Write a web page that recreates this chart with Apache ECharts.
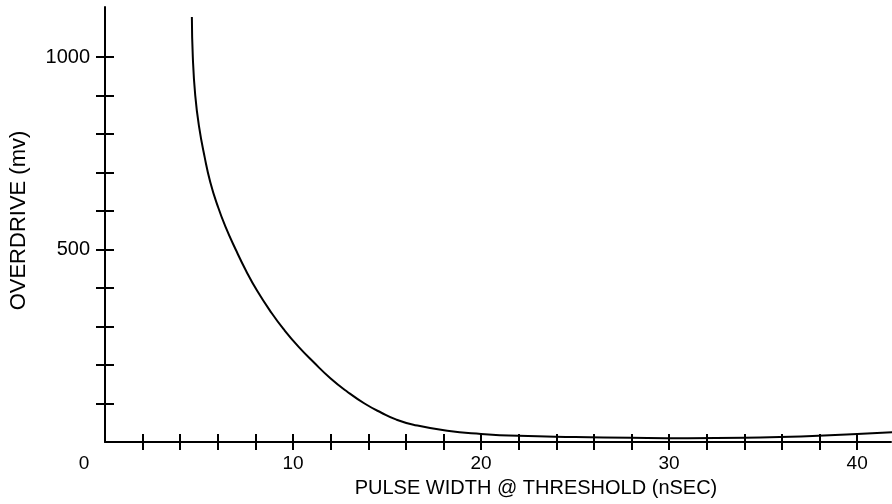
<!DOCTYPE html>
<html>
<head>
<meta charset="utf-8">
<script src="https://cdn.jsdelivr.net/npm/echarts@6/dist/echarts.min.js"></script>
<style>
html, body { margin: 0; padding: 0; background: #fff; }
#chart { width: 892px; height: 504px; }
</style>
</head>
<body>
<div id="chart"></div>
<script>
// curve: pulse width (nSEC) vs overdrive (mv)
var pulseWidth = [4.62, 4.67, 4.8, 5.0, 5.3, 5.6, 6.0, 6.4, 6.95, 7.5, 8.1, 8.86, 9.5, 10.3, 11.1, 12.0, 12.9, 13.8, 14.7, 15.5, 16.4, 18.2, 20, 22, 25, 28, 31, 34, 37, 40, 42];
var overdrive  = [1104, 1000, 900, 820, 740, 675, 612, 560, 500, 445, 392, 335, 293, 247, 207, 165, 130, 100, 76, 58, 45, 29, 21, 16, 13, 11, 10, 11, 14, 21, 26];

var xTicks  = [2, 4, 6, 8, 10, 12, 14, 16, 18, 20, 22, 24, 26, 28, 30, 32, 34, 36, 38, 40];
var xLabels = [0, 10, 20, 30, 40];
var yTicks  = [100, 200, 300, 400, 500, 600, 700, 800, 900, 1000];
var yLabels = [500, 1000];

var font = 'Liberation Sans, Arial, Helvetica, sans-serif';

var myChart = echarts.init(document.getElementById('chart'), null, {renderer: 'canvas'});

var lineData = [];
for (var i = 0; i < pulseWidth.length; i++) {
  lineData.push([pulseWidth[i], overdrive[i]]);
}

var option = {
  backgroundColor: '#fff',
  animation: false,
  grid: { left: 102, right: 1, top: 7, bottom: 62, containLabel: false },
  xAxis: [
    {
      type: 'value', min: 0, max: 41.8, position: 'bottom',
      name: 'PULSE WIDTH @ THRESHOLD (nSEC)',
      nameLocation: 'middle', nameGap: 36,
      nameTextStyle: { color: '#000', fontSize: 20, fontFamily: font, padding: [0, 0, 0, 76] },
      axisLine: { onZero: false, lineStyle: { color: '#000', width: 2 } },
      axisTick: { show: true, length: 8, customValues: xTicks, lineStyle: { color: '#000', width: 2 } },
      axisLabel: {
        customValues: xLabels, margin: 12, color: '#000', fontSize: 19, fontFamily: font,
        formatter: function (v) { return v === 0 ? '{z|0}' : String(v); },
        rich: { z: { color: '#000', fontSize: 19, fontFamily: font, padding: [0, 42, 0, 0] } }
      },
      splitLine: { show: false }
    },
    {
      // second copy of the axis only to draw the inner half of each tick
      type: 'value', min: 0, max: 41.8, position: 'bottom',
      axisLine: { show: false, onZero: false },
      axisTick: { show: true, inside: true, length: 8, customValues: xTicks, lineStyle: { color: '#000', width: 2 } },
      axisLabel: { show: false },
      splitLine: { show: false }
    }
  ],
  yAxis: [
    {
      type: 'value', min: 0, max: 1130, position: 'left',
      name: 'OVERDRIVE (mv)',
      nameLocation: 'middle', nameGap: 75,
      nameTextStyle: { color: '#000', fontSize: 22, fontFamily: font, padding: [0, 0, 0, 8] },
      axisLine: { show: true, onZero: false, lineStyle: { color: '#000', width: 2 } },
      axisTick: { show: true, length: 9, customValues: yTicks, lineStyle: { color: '#000', width: 2 } },
      axisLabel: {
        customValues: yLabels, margin: 15, color: '#000', fontSize: 20, fontFamily: font,
        formatter: function (v) { return String(v); }
      },
      splitLine: { show: false }
    },
    {
      type: 'value', min: 0, max: 1130, position: 'left',
      axisLine: { show: false, onZero: false },
      axisTick: { show: true, inside: true, length: 9, customValues: yTicks, lineStyle: { color: '#000', width: 2 } },
      axisLabel: { show: false },
      splitLine: { show: false }
    }
  ],
  series: [
    {
      type: 'line',
      smooth: 0.5,
      showSymbol: false,
      clip: false,
      lineStyle: { color: '#000', width: 2 },
      data: lineData
    }
  ]
};

myChart.setOption(option);
</script>
</body>
</html>
